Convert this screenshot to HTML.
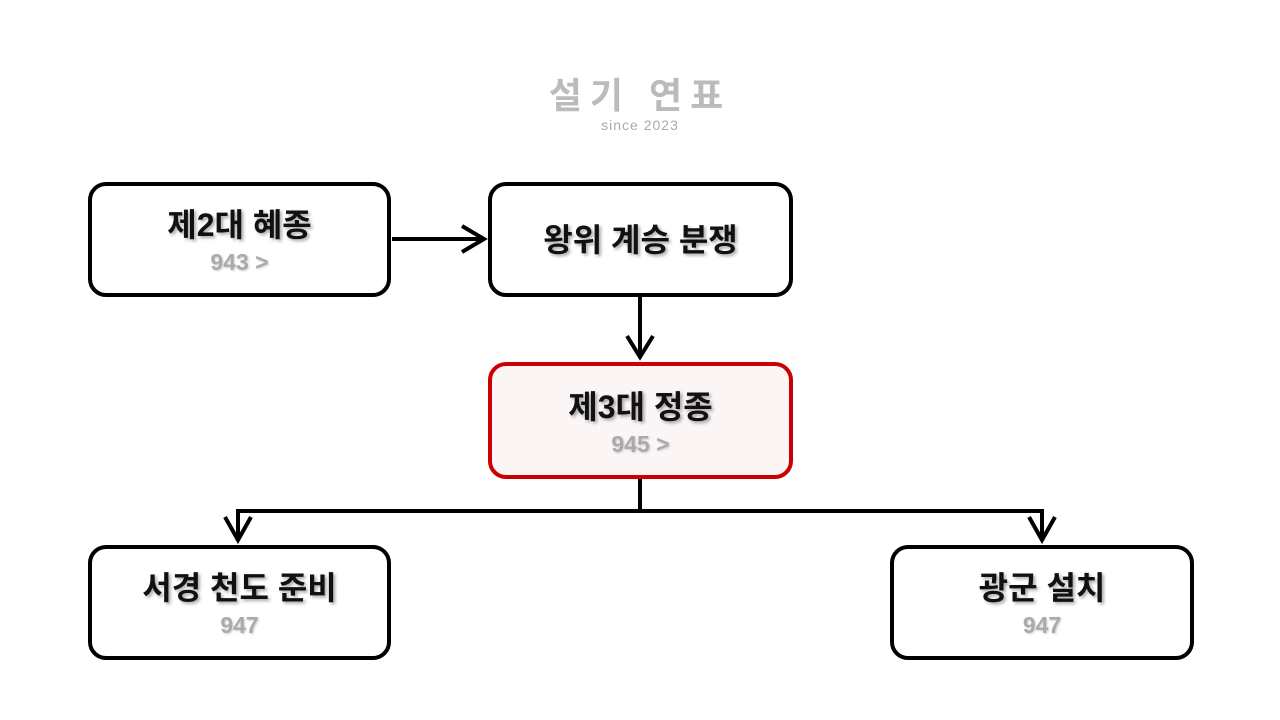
<!DOCTYPE html>
<html><head><meta charset="utf-8"><style>
body{margin:0;width:1280px;height:720px;background:#fff;position:relative;overflow:hidden;font-family:"Liberation Sans","Noto Sans CJK KR",sans-serif}
.b{position:absolute;box-sizing:border-box;border:4px solid #000;border-radius:18px;background:#fff;text-align:center}
.t{font-weight:bold;font-size:32px;line-height:38px;color:#111;text-shadow:2px 2px 3px rgba(0,0,0,.35)}
.s{font-weight:bold;font-size:23px;line-height:30px;margin-top:3px;color:#aaa;text-shadow:1px 1px 2px rgba(0,0,0,.2)}
</style></head><body>
<div style="position:absolute;left:540px;top:74px;width:200px;text-align:center;color:#bbb;font-size:36px;font-weight:bold;letter-spacing:8px;line-height:44px">설기 연표</div>
<div style="position:absolute;left:540px;top:117px;width:200px;text-align:center;color:#aaa;font-size:14px;letter-spacing:1px">since 2023</div>
<svg width="1280" height="720" style="position:absolute;left:0;top:0" fill="none" stroke="#000" stroke-width="4">
<path d="M392 239H484M462 226L484 239L462 252"/>
<path d="M640 297V357M627 336L640 357L653 336"/>
<path d="M640 479V511M238 511H1042M238 509V540M1042 509V540M225 517L238 540L251 517M1029 517L1042 540L1055 517"/>
</svg>
<div class="b" style="left:88px;top:182px;width:303px;height:115px"><div class="t" style="margin-top:20px">제2대 혜종</div><div class="s">943 &gt;</div></div>
<div class="b" style="left:488px;top:182px;width:305px;height:115px"><div class="t" style="margin-top:35px">왕위 계승 분쟁</div></div>
<div class="b" style="left:488px;top:362px;width:305px;height:117px;border-color:#c00;background:#fcf5f5"><div class="t" style="margin-top:22px">제3대 정종</div><div class="s">945 &gt;</div></div>
<div class="b" style="left:88px;top:545px;width:303px;height:115px"><div class="t" style="margin-top:20px">서경 천도 준비</div><div class="s">947</div></div>
<div class="b" style="left:890px;top:545px;width:304px;height:115px"><div class="t" style="margin-top:20px">광군 설치</div><div class="s">947</div></div>
</body></html>
